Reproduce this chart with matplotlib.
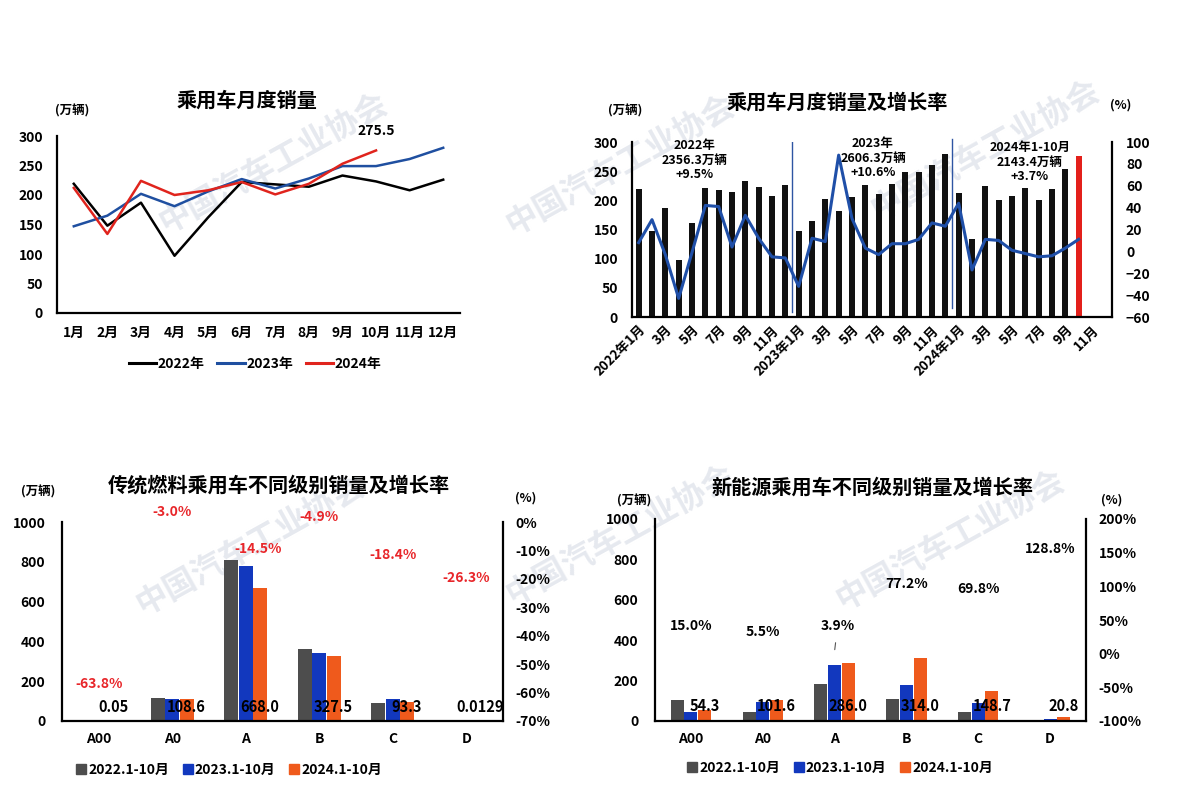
import numpy as np
import matplotlib
matplotlib.use("Agg")
import matplotlib.pyplot as plt
from matplotlib.patches import Patch
from matplotlib.lines import Line2D

plt.rcParams["font.family"] = ["Noto Sans CJK SC", "DejaVu Sans"]
plt.rcParams["font.weight"] = "bold"

# ---------------------------------------------------------------------------
# Data
# ---------------------------------------------------------------------------
months = ["1月", "2月", "3月", "4月", "5月", "6月", "7月", "8月", "9月", "10月", "11月", "12月"]
sales_2022 = [219, 148, 187, 97, 162, 222, 218, 214, 233, 223, 208, 226]
sales_2023 = [147, 165, 202, 181, 206, 227, 211, 228, 249, 249, 261, 280]
sales_2024 = [212, 134, 224, 200, 208, 222, 201, 219, 253, 275.5]

growth_2022 = [8, 29, -3, -43, -1, 42, 41, 4, 33, 12, -5, -6]
growth_2023 = [-32, 12, 9, 88, 30, 3, -3, 7, 7, 11, 26, 23]
growth_2024 = [44, -17, 11, 10, 1, -2, -5, -4, 3, 11]

month_ticks = ["2022年1月", "3月", "5月", "7月", "9月", "11月",
               "2023年1月", "3月", "5月", "7月", "9月", "11月",
               "2024年1月", "3月", "5月", "7月", "9月", "11月"]
year_notes = ["2022年\n2356.3万辆\n+9.5%", "2023年\n2606.3万辆\n+10.6%", "2024年1-10月\n2143.4万辆\n+3.7%"]

classes = ["A00", "A0", "A", "B", "C", "D"]
ice_2022 = [0.3, 115, 811, 362, 90, 0.02]
ice_2023 = [0.14, 112, 781, 344, 112, 0.02]
ice_2024 = [0.05, 108.6, 668.0, 327.5, 93.3, 0.0129]
ice_labels = ["0.05", "108.6", "668.0", "327.5", "93.3", "0.0129"]
ice_growth = [-63.8, -3.0, -14.5, -4.9, -18.4, -26.3]

nev_2022 = [104, 45, 181, 110, 46, 0]
nev_2023 = [47, 96, 275, 177, 88, 9]
nev_2024 = [54.3, 101.6, 286.0, 314.0, 148.7, 20.8]
nev_labels = ["54.3", "101.6", "286.0", "314.0", "148.7", "20.8"]
nev_growth = [15.0, 5.5, 3.9, 77.2, 69.8, 128.8]

period_names = ["2022.1-10月", "2023.1-10月", "2024.1-10月"]

# ---------------------------------------------------------------------------
# Helpers
# ---------------------------------------------------------------------------
W, H = 1180, 789
fig = plt.figure(figsize=(W / 100, H / 100), dpi=100)

C_GREY, C_BLUE, C_ORANGE = "#4d4d4d", "#1238be", "#ef5a1c"


def add_ax(x0, y0, x1, y1):
    ax = fig.add_axes([x0 / W, 1 - y1 / H, (x1 - x0) / W, (y1 - y0) / H])
    ax.patch.set_alpha(0)
    return ax


def ftext(x, y, s, **kw):
    kw.setdefault("ha", "center")
    kw.setdefault("va", "center")
    kw.setdefault("fontweight", "bold")
    return fig.text(x / W, 1 - y / H, s, **kw)


def style_spines(ax, right=False):
    for side in ["top", "right", "left", "bottom"]:
        ax.spines[side].set_visible(False)
    for side in ["left", "bottom"] + (["right"] if right else []):
        ax.spines[side].set_visible(True)
        ax.spines[side].set_linewidth(1.6)
        ax.spines[side].set_color("black")


# faint association watermarks, kept behind every axes
for cx, cy in [(273, 163), (620, 165), (985, 150), (250, 545), (620, 535), (950, 540)]:
    ftext(cx, cy, "中国汽车工业协会", fontsize=23, rotation=29, color="#e6e9ef", zorder=-5)

# ---------------------------------------------------------------------------
# Chart 1: monthly sales lines
# ---------------------------------------------------------------------------
ax1 = add_ax(57, 136, 460, 313)
x12 = np.arange(12)
ax1.plot(x12, sales_2022, color="black", lw=1.8)
ax1.plot(x12, sales_2023, color="#1f4fa0", lw=1.8)
ax1.plot(np.arange(len(sales_2024)), sales_2024, color="#e0241d", lw=1.8)
ax1.set_xlim(-0.5, 11.5)
ax1.set_ylim(0, 300)
ax1.set_yticks(range(0, 301, 50))
ax1.set_xticks(x12, months)
style_spines(ax1)
ax1.tick_params(axis="y", length=0, labelsize=10, pad=10)
ax1.tick_params(axis="x", length=0, labelsize=10, pad=9)
ax1.annotate("275.5", (9, sales_2024[-1]), xytext=(0, 19), textcoords="offset pixels",
             ha="center", va="center", fontsize=10, fontweight="bold")
ftext(247, 100, "乘用车月度销量", fontsize=14.5)
ftext(72, 111, "(万辆)", fontsize=9)
h1 = [Line2D([], [], color=c, lw=2.2) for c in ["black", "#1f4fa0", "#e0241d"]]
fig.legend(h1, ["2022年", "2023年", "2024年"], loc="center", bbox_to_anchor=(255 / W, 1 - 364 / H),
           ncol=3, frameon=False, handlelength=2.0, handletextpad=0.1, columnspacing=0.9,
           prop={"size": 10, "weight": "bold"})

# ---------------------------------------------------------------------------
# Chart 2: monthly bars + growth rate
# ---------------------------------------------------------------------------
ax2 = add_ax(632, 142, 1112, 317)
all_sales = sales_2022 + sales_2023 + sales_2024
all_growth = growth_2022 + growth_2023 + growth_2024
idx = np.arange(len(all_sales))
bar_colors = ["#111111"] * (len(all_sales) - 1) + ["#e3201b"]
ax2.bar(idx, all_sales, width=0.45, color=bar_colors, zorder=2)
ax2.set_xlim(-0.5, 35.5)
ax2.set_ylim(0, 300)
ax2.set_yticks(range(0, 301, 50))
ax2.set_xticks(np.arange(0, 36, 2), month_ticks)
style_spines(ax2, right=True)
ax2.tick_params(axis="y", length=0, labelsize=10, pad=10)
ax2.tick_params(axis="x", length=0, labelsize=9.5, pad=4)
for lab in ax2.get_xticklabels():
    lab.set_rotation(45)
    lab.set_ha("right")
    lab.set_va("top")
    lab.set_rotation_mode("anchor")
ax2.axvline(11.5, ymin=0.03, ymax=1.0, color="#2e55a3", lw=1.0, zorder=3)
ax2.axvline(23.5, ymin=0.05, ymax=1.02, color="#2e55a3", lw=1.0, zorder=3, clip_on=False)

ax2b = ax2.twinx()
ax2b.patch.set_alpha(0)
ax2b.plot(idx, all_growth, color="#1f4fa8", lw=2.2, zorder=4)
ax2b.set_ylim(-60, 100)
ax2b.set_yticks(range(-60, 101, 20))
for side in ["top", "left", "bottom", "right"]:
    ax2b.spines[side].set_visible(False)
ax2b.tick_params(axis="y", length=0, labelsize=10, pad=10)

for (nx, ny), note in zip([(695, 160), (873, 158), (1030, 162)], year_notes):
    ftext(nx, ny, note, fontsize=9, linespacing=1.15)
ftext(837, 102, "乘用车月度销量及增长率", fontsize=14.5)
ftext(625, 111, "(万辆)", fontsize=9)
ftext(1121, 105, "(%)", fontsize=9)


# ---------------------------------------------------------------------------
# Charts 3 & 4: class bars + growth labels
# ---------------------------------------------------------------------------
def class_chart(box, v22, v23, v24, labels, rlim, rstep, offset, width):
    ax = add_ax(*box)
    xc = np.arange(len(classes))
    ax.bar(xc - offset, v22, width=width, color=C_GREY, zorder=2)
    ax.bar(xc, v23, width=width, color=C_BLUE, zorder=2)
    ax.bar(xc + offset, v24, width=width, color=C_ORANGE, zorder=2)
    ax.set_xlim(-0.5, 5.5)
    ax.set_ylim(0, 1000)
    ax.set_yticks(range(0, 1001, 200))
    ax.set_xticks(xc, classes)
    style_spines(ax, right=True)
    ax.tick_params(axis="y", length=0, labelsize=10, pad=12)
    ax.tick_params(axis="x", length=0, labelsize=10, pad=8)
    for xi, lab in zip(xc, labels):
        ax.text(xi + offset, 72, lab, ha="center", va="center", fontsize=10.5,
                fontweight="bold", zorder=5)

    axr = ax.twinx()
    axr.patch.set_alpha(0)
    axr.set_ylim(*rlim)
    ticks = np.arange(rlim[0], rlim[1] + 1, rstep)
    axr.set_yticks(ticks)
    axr.set_yticklabels([f"{int(v)}%" for v in ticks])
    for side in ["top", "left", "bottom", "right"]:
        axr.spines[side].set_visible(False)
    axr.tick_params(axis="y", length=0, labelsize=10, pad=9)
    return ax, axr


ax3, ax3r = class_chart((62, 522, 503, 721), ice_2022, ice_2023, ice_2024, ice_labels,
                        (-70, 0), 10, 0.195, 0.19)
for i, g in enumerate(ice_growth):
    dx, dy = (12, 14) if classes[i] == "A" else (0, 19)
    ax3r.annotate(f"{g:.1f}%", (i, g), xytext=(dx, dy), textcoords="offset pixels",
                  ha="center", va="center", fontsize=10, fontweight="bold", color="#e8262a")
ftext(279, 485, "传统燃料乘用车不同级别销量及增长率", fontsize=14.5)
ftext(38, 492, "(万辆)", fontsize=9)
ftext(526, 498, "(%)", fontsize=9)

ax4, ax4r = class_chart((655, 519, 1086, 721), nev_2022, nev_2023, nev_2024, nev_labels,
                        (-100, 200), 50, 0.19, 0.18)
for i, g in enumerate(nev_growth):
    if classes[i] == "A":
        ax4r.annotate(f"{g:.1f}%", (i, g), xytext=(3, 25), textcoords="offset pixels",
                      ha="center", va="center", fontsize=10, fontweight="bold",
                      arrowprops=dict(arrowstyle="-", color="#555555", lw=0.8, shrinkA=5, shrinkB=1))
    else:
        ax4r.annotate(f"{g:.1f}%", (i, g), xytext=(0, 18), textcoords="offset pixels",
                      ha="center", va="center", fontsize=10, fontweight="bold")
ftext(872, 487, "新能源乘用车不同级别销量及增长率", fontsize=14.5)
ftext(634, 501, "(万辆)", fontsize=9)
ftext(1112, 500, "(%)", fontsize=9)

hb = [Patch(color=c) for c in [C_GREY, C_BLUE, C_ORANGE]]
for cx, cy in [(229, 770), (840, 768)]:
    fig.legend(hb, period_names, loc="center", bbox_to_anchor=(cx / W, 1 - cy / H), ncol=3,
               frameon=False, handlelength=0.7, handleheight=0.7, handletextpad=0.15,
               columnspacing=1.0, prop={"size": 10, "weight": "bold"})

fig.savefig("out.png", dpi=100, facecolor="white")
